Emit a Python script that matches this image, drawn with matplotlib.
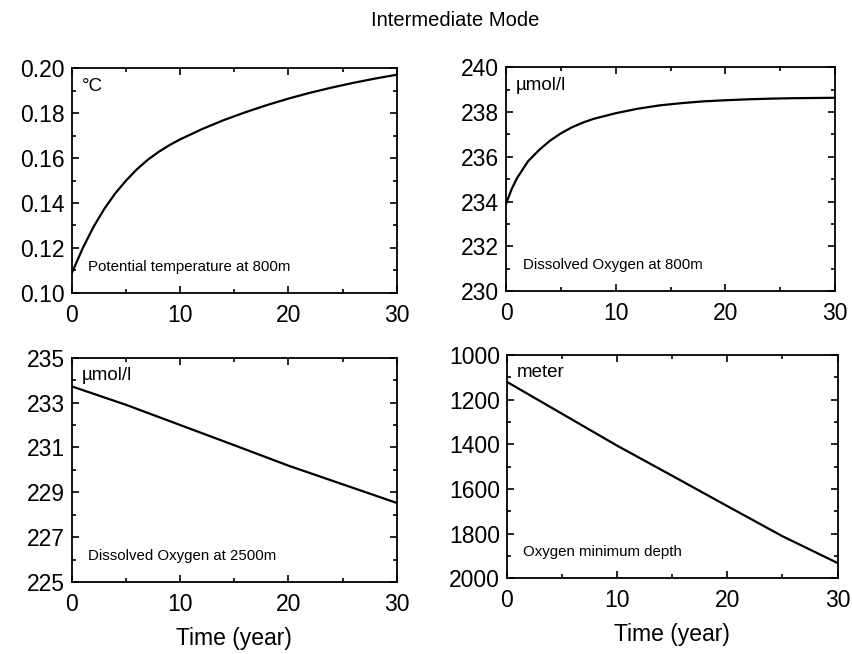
import numpy as np
import matplotlib.pyplot as plt
from matplotlib.ticker import MultipleLocator

plt.rcParams['font.family'] = ['Liberation Sans', 'DejaVu Sans']

# values
years_temp = [0, 1, 2, 3, 4, 5, 6, 7, 8, 9, 10, 12, 14, 16, 18, 20, 22, 24, 26, 28, 30]
temp_800 = [0.109, 0.120, 0.1295, 0.1375, 0.1443, 0.150, 0.155, 0.1592, 0.1627, 0.1657,
            0.1683, 0.1728, 0.1768, 0.1803, 0.1835, 0.1864, 0.189, 0.1913, 0.1934,
            0.1953, 0.197]

years_o2 = [0, 0.5, 1, 2, 3, 4, 5, 6, 7, 8, 10, 12, 14, 16, 18, 20, 22, 24, 26, 28, 30]
oxygen_800 = [233.9, 234.55, 235.05, 235.8, 236.3, 236.72, 237.05, 237.32, 237.53, 237.7,
              237.95, 238.15, 238.3, 238.4, 238.48, 238.53, 238.57, 238.6, 238.62,
              238.63, 238.64]

years_lin = [0, 5, 10, 15, 20, 25, 30]
oxygen_2500 = [233.72, 232.9, 232.0, 231.1, 230.19, 229.36, 228.53]
omz_depth = [1120, 1263, 1406, 1541, 1677, 1812, 1932]

panels = [
    dict(x=years_temp, y=temp_800, ylim=(0.10, 0.20), ticks=np.arange(0.10, 0.201, 0.02),
         minor=0.01, unit='°C', desc='Potential temperature at 800m', fmt='%.2f'),
    dict(x=years_o2, y=oxygen_800, ylim=(230, 240), ticks=np.arange(230, 241, 2),
         minor=1, unit='µmol/l', desc='Dissolved Oxygen at 800m', fmt='%d'),
    dict(x=years_lin, y=oxygen_2500, ylim=(225, 235), ticks=np.arange(225, 236, 2),
         minor=1, unit='µmol/l', desc='Dissolved Oxygen at 2500m', fmt='%d'),
    dict(x=years_lin, y=omz_depth, ylim=(2000, 1000), ticks=np.arange(1000, 2001, 200),
         minor=100, unit='meter', desc='Oxygen minimum depth', fmt='%d'),
]

fig = plt.figure(figsize=(8.52, 6.54), dpi=100)
rects = [
    [0.0845, 0.552, 0.381, 0.344],
    [0.594, 0.555, 0.386, 0.342],
    [0.0845, 0.110, 0.381, 0.343],
    [0.595, 0.116, 0.388, 0.341],
]

for i, (p, r) in enumerate(zip(panels, rects)):
    ax = fig.add_axes(r)
    ax.plot(p['x'], p['y'], color='black', lw=1.6)
    ax.set_xlim(0, 30)
    ax.set_ylim(*p['ylim'])
    ax.xaxis.set_major_locator(MultipleLocator(10))
    ax.xaxis.set_minor_locator(MultipleLocator(5))
    ax.set_yticks(p['ticks'])
    ax.yaxis.set_minor_locator(MultipleLocator(p['minor']))
    ax.yaxis.set_major_formatter(plt.FormatStrFormatter(p['fmt']))
    ax.tick_params(which='both', direction='in', top=True, right=True, width=1.2)
    ax.tick_params(which='major', length=5, labelsize=16.5)
    ax.tick_params(which='minor', length=3)
    ax.tick_params(axis='x', pad=8)
    ax.tick_params(axis='y', pad=5)
    for s in ax.spines.values():
        s.set_linewidth(1.3)
    ax.text(0.03, 0.92, p['unit'], transform=ax.transAxes, fontsize=13.5, va='center')
    ax.text(0.05, 0.115, p['desc'], transform=ax.transAxes, fontsize=10.8, va='center')
    if i >= 2:
        ax.set_xlabel('Time (year)', fontsize=16.5, labelpad=8)

fig.text(0.534, 0.968, 'Intermediate Mode', ha='center', va='center', fontsize=14.5)

plt.savefig('out.png', dpi=100)
